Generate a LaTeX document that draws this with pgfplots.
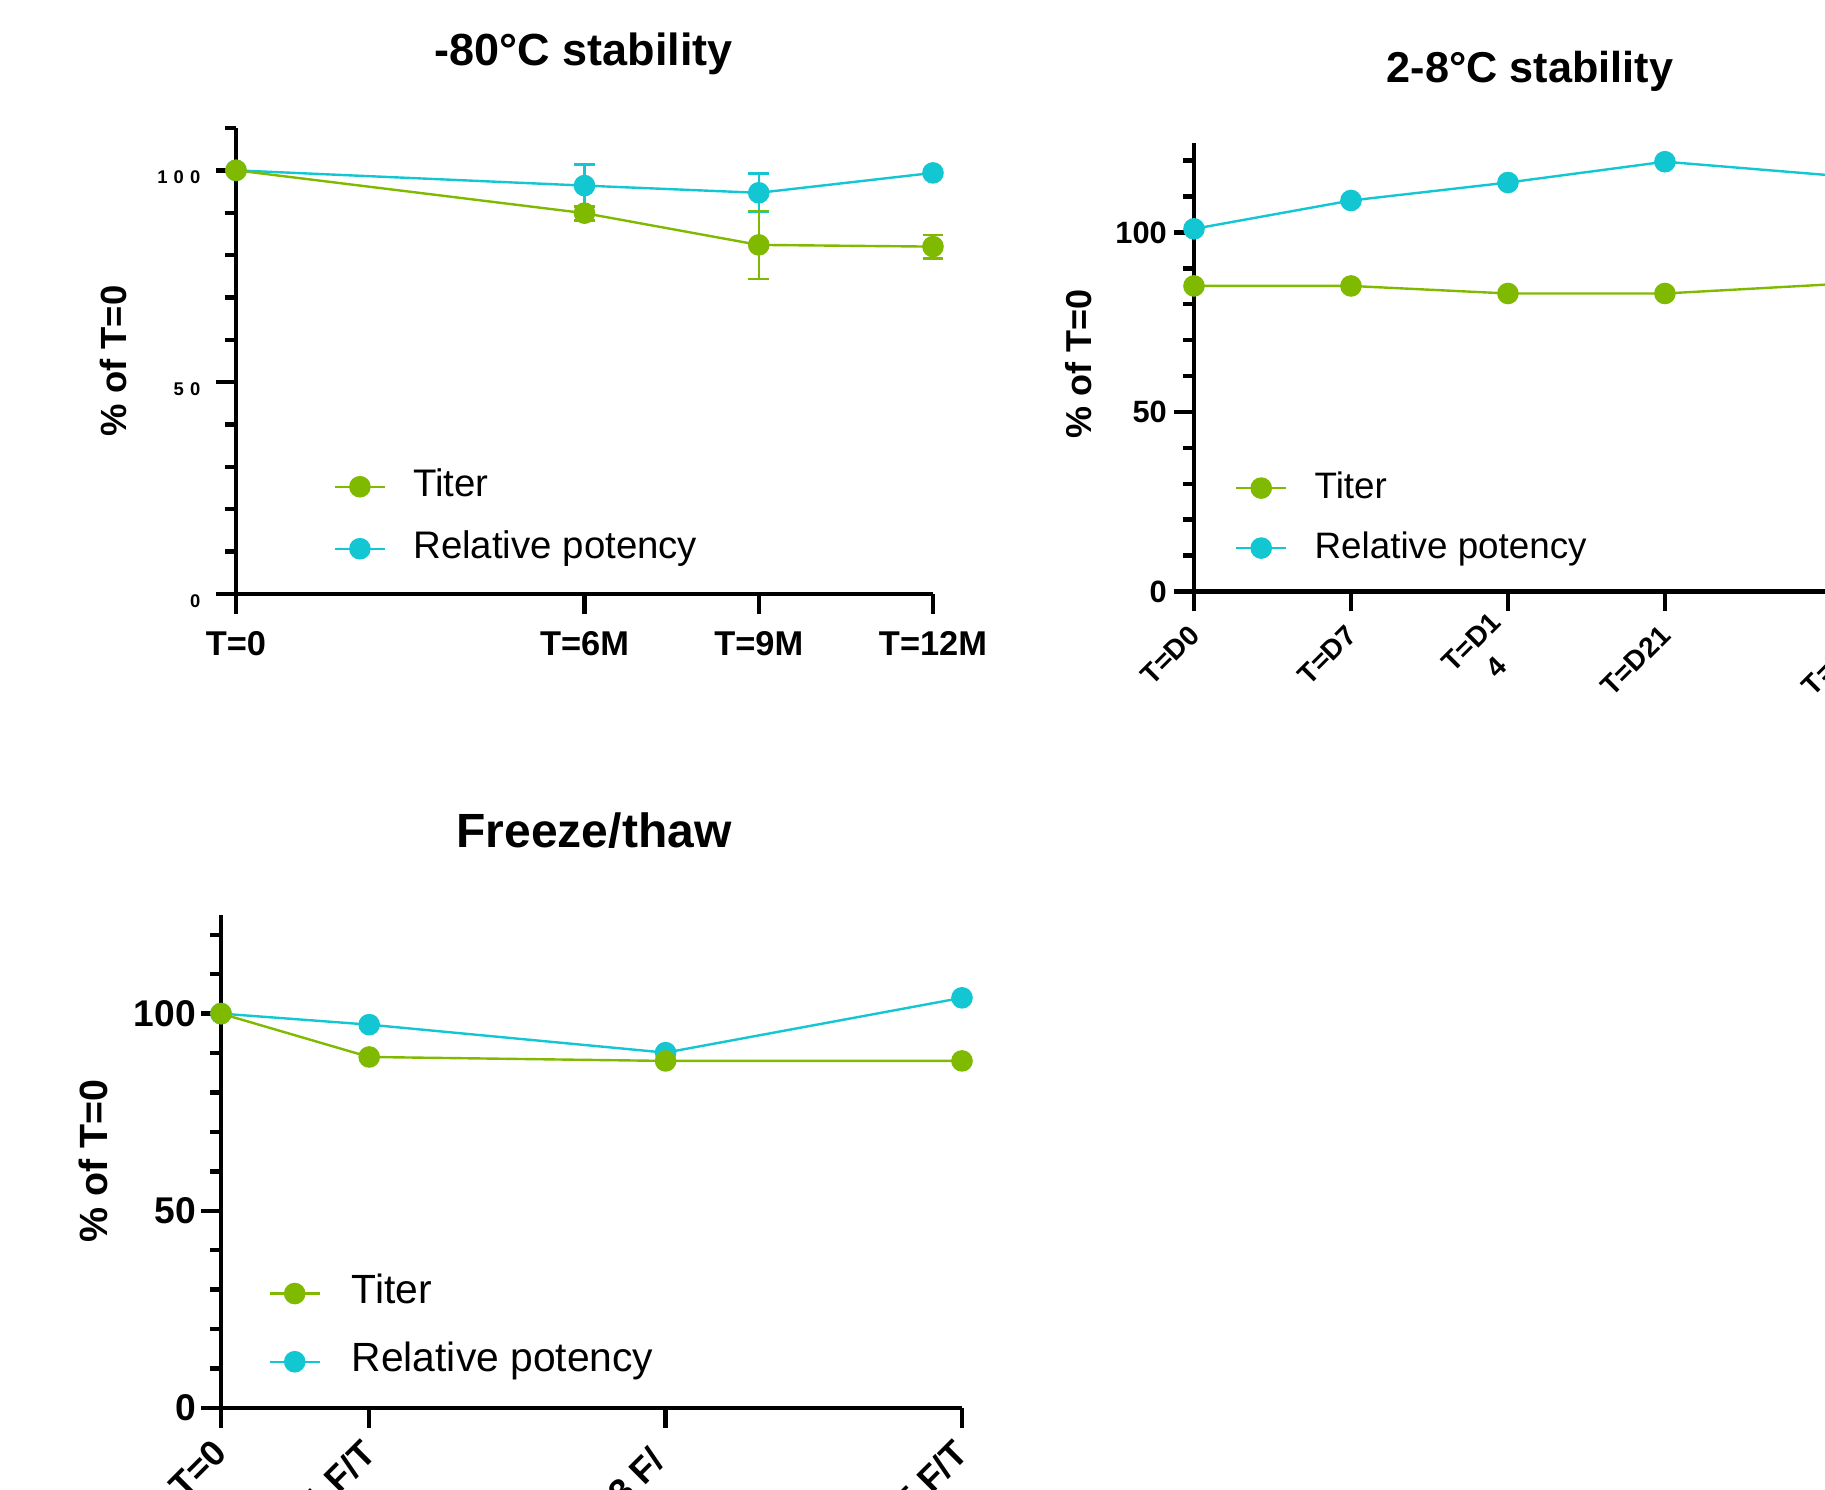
\documentclass[border=0pt]{standalone}
\usepackage{fontspec}
\setmainfont{Liberation Sans}
\usepackage{pgfplots}
\pgfplotsset{compat=1.18}

\definecolor{titer}{RGB}{127,186,0}
\definecolor{rpot}{RGB}{18,198,210}

\pgfplotsset{
  prism/.style={
    scale only axis,
    axis x line*=bottom,
    axis y line*=left,
    axis line style={line width=1.1pt},
    every tick/.style={black, line width=1.1pt},
    tick align=outside,
    major tick length=5pt,
    minor tick length=2.8pt,
    /pgf/number format/assume math mode=true,
    ymin=0,
    clip=false,
    reverse legend,
    legend cell align=left,
    legend style={draw=none, fill=none, inner sep=0pt, anchor=north west,
      nodes={inner sep=0pt, text height=7pt, text depth=2pt},
      column sep=6.8pt},
    legend image code/.code={%
      \draw[mark repeat=2,mark phase=2] plot coordinates {(0cm,0cm) (0.22cm,0cm) (0.44cm,0cm)};},
  },
  rpline/.style={rpot, line width=0.6pt, mark=*, mark size=2.4pt, mark options={solid, fill=rpot}},
  titline/.style={titer, line width=0.6pt, mark=*, mark size=2.4pt, mark options={solid, fill=titer}},
  ebars/.style={error bars/.cd, y dir=both, y explicit,
    error bar style={line width=0.6pt},
    error mark options={rotate=90, mark size=2.6pt, line width=0.6pt}},
}

\begin{document}
\begin{tikzpicture}
\useasboundingbox (0,0) rectangle (456.25pt,372.5pt);
\clip (0,0) rectangle (456.25pt,372.5pt);

% titles and y labels
\node[font=\fontsize{11.25}{13}\selectfont\bfseries] at (146pt,359.1pt) {-80°C stability};
\node[font=\fontsize{10.8}{13}\selectfont\bfseries] at (382.5pt,354.6pt) {2-8°C stability};
\node[font=\fontsize{12}{14}\selectfont\bfseries] at (148.5pt,164.75pt) {Freeze/thaw};
\node[rotate=90, font=\fontsize{9.1}{11}\selectfont\bfseries] at (28.25pt,282.25pt) {\% of T=0};
\node[rotate=90, font=\fontsize{9}{11}\selectfont\bfseries] at (269.75pt,281.5pt) {\% of T=0};
\node[rotate=90, font=\fontsize{9.85}{12}\selectfont\bfseries] at (23.25pt,82.25pt) {\% of T=0};

% -80 C stability
\begin{axis}[prism,
  at={(59pt,224pt)}, anchor=south west,
  width=174.25pt, height=116.5pt,
  xmin=0, xmax=12, ymax=110,
  xtick={0,6,9,12},
  xticklabels={T=0,T=6M,T=9M,T=12M},
  xticklabel style={font=\fontsize{8.6}{10}\selectfont\bfseries, yshift=-0.8pt},
  ytick={0,50,100},
  yticklabels={0,5\,\,0,1\,\,0\,\,0},
  yticklabel style={font=\fontsize{4.6}{5}\selectfont\bfseries, xshift=-0.4pt, yshift=-1.7pt},
  minor ytick={10,20,30,40,60,70,80,90,110},
  legend style={at={(0.139,0.2705)}, font=\fontsize{9.6}{11}\selectfont, row sep=6.5pt},
]
\addplot[rpline, ebars] coordinates {
  (0,100) +- (0,0)
  (6,96.4) +- (0,5.0)
  (9,94.7) +- (0,4.6)
  (12,99.4) +- (0,0)
};
\addlegendentry{Relative potency}
\addplot[titline, ebars] coordinates {
  (0,100) +- (0,0)
  (6,89.9) +- (0,1.7)
  (9,82.4) +- (0,8.0)
  (12,82.0) +- (0,2.8)
};
\addlegendentry{Titer}
\end{axis}

% 2-8 C stability
\begin{axis}[prism,
  at={(298.5pt,224.625pt)}, anchor=south west,
  width=179.4pt, height=112.2pt,
  xmin=0, xmax=32, ymax=125,
  xtick={0,7,14,21,30},
  xticklabels={T=D0,T=D7,T=D1\\4,T=D21,T=D30},
  xticklabel style={font=\fontsize{7}{9}\selectfont\bfseries,
    xshift=2.6pt, yshift=-2.2pt, rotate=45, anchor=east, align=center},
  ytick={0,50,100},
  yticklabel style={font=\fontsize{7.7}{10}\selectfont\bfseries, xshift=1.75pt},
  minor ytick={10,20,30,40,60,70,80,90,110,120},
  legend style={at={(0.056,0.2723)}, font=\fontsize{9.2}{11}\selectfont, row sep=6pt},
]
\addplot[rpline] coordinates {(0,101.0) (7,108.9) (14,113.9) (21,119.7) (30,115.1)};
\addlegendentry{Relative potency}
\addplot[titline] coordinates {(0,85.1) (7,85.1) (14,83.0) (21,83.0) (30,86.1)};
\addlegendentry{Titer}
\end{axis}

% Freeze/thaw
\begin{axis}[prism,
  at={(55.25pt,20.5pt)}, anchor=south west,
  width=185.25pt, height=123.25pt,
  xmin=0, xmax=5, ymax=125,
  xtick={0,1,3,5},
  xticklabels={T=0,T=1 F/T,T=3 F/\rule{2.5pt}{0pt}\\T,T=5 F/T},
  xticklabel style={font=\fontsize{9}{11}\selectfont\bfseries,
    xshift=-2.5pt, yshift=2.5pt, rotate=45, anchor=north east, align=center},
  ytick={0,50,100},
  yticklabel style={font=\fontsize{9.3}{11}\selectfont\bfseries, xshift=2.3pt},
  minor ytick={10,20,30,40,60,70,80,90,110,120},
  legend style={at={(0.063,0.2703)}, font=\fontsize{10.2}{12}\selectfont, row sep=8.05pt, column sep=7.7pt},
]
\addplot[rpline] coordinates {(0,100) (1,97.2) (3,90.1) (5,104.0)};
\addlegendentry{Relative potency}
\addplot[titline] coordinates {(0,100) (1,89.0) (3,88.0) (5,88.0)};
\addlegendentry{Titer}
\end{axis}
\end{tikzpicture}
\end{document}
